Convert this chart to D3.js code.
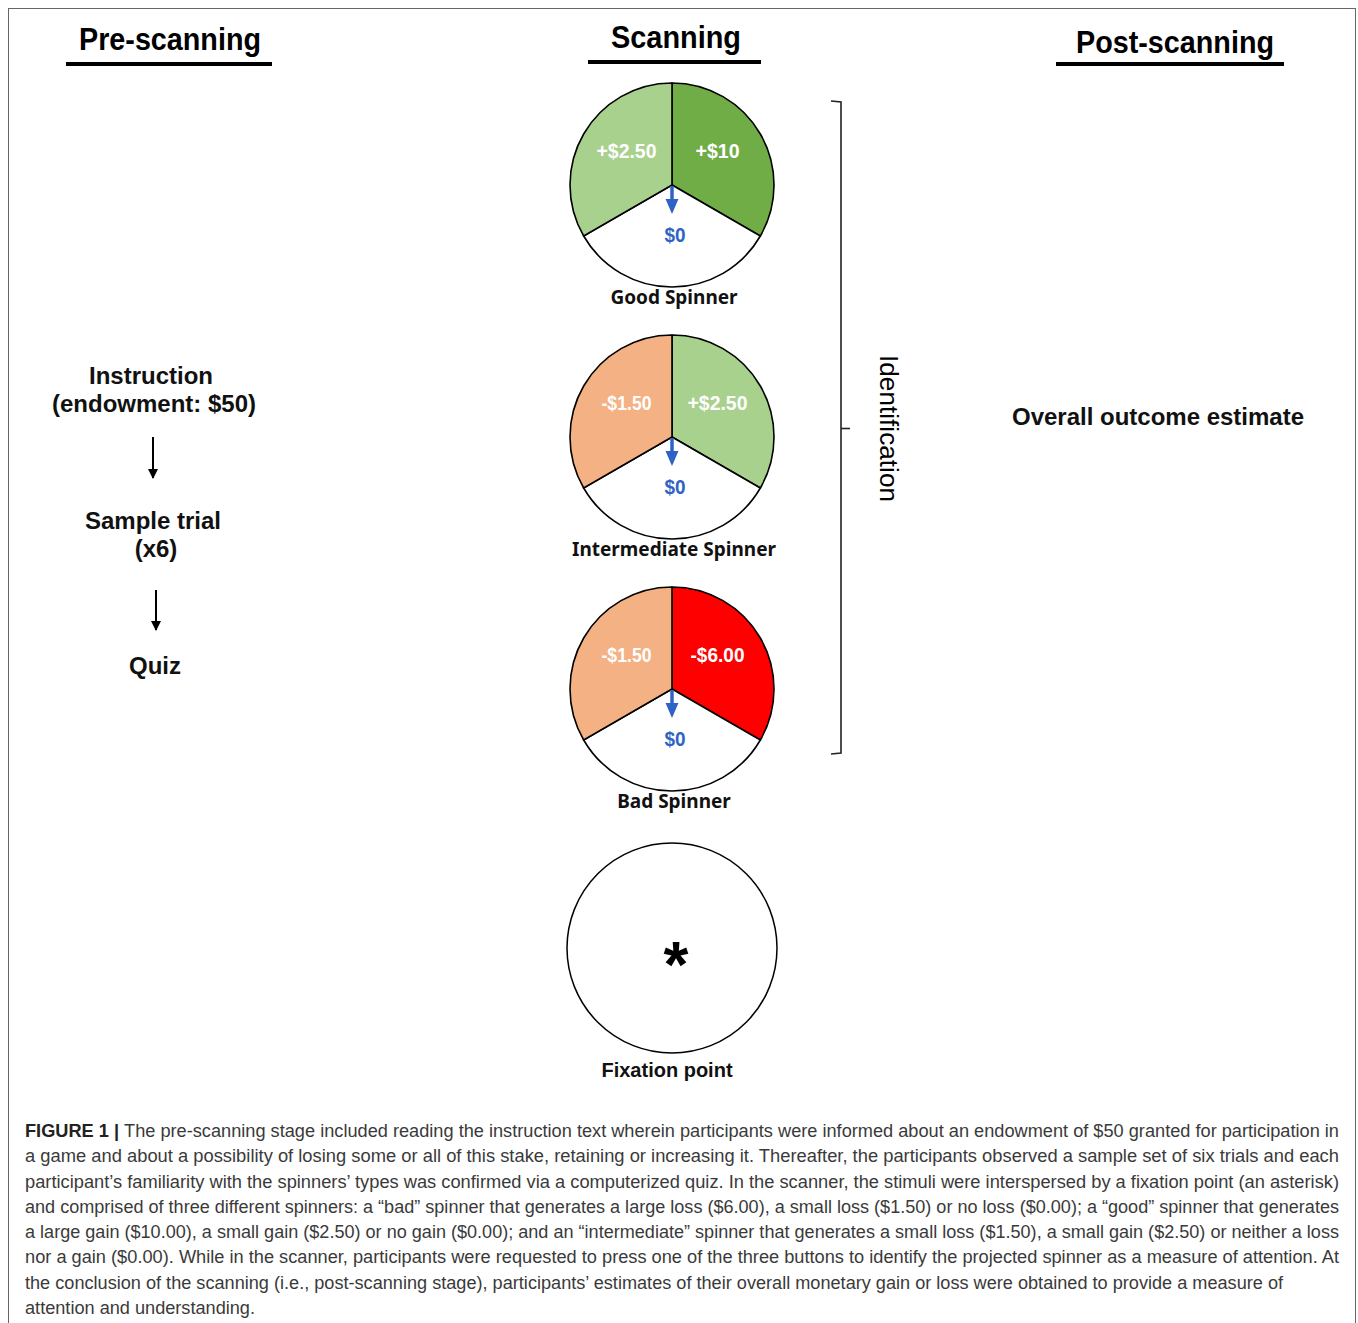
<!DOCTYPE html>
<html>
<head>
<meta charset="utf-8">
<script src="https://cdn.jsdelivr.net/npm/d3@7"></script>
<style>
  body { margin: 0; background: #fff; }
  svg { display: block; }
</style>
</head>
<body>
<script>
// ---- data ----
var stages = ["Pre-scanning", "Scanning", "Post-scanning"]
var spinnerNames = ["Good Spinner", "Intermediate Spinner", "Bad Spinner", "Fixation point"]
var rightOutcomes = ["+$10", "+$2.50", "-$6.00"]
var zeroOutcomes = ["$0", "$0", "$0"]
var leftOutcomes = ["+$2.50", "-$1.50", "-$1.50"]
var rightColors = ["#70ad47", "#a9d18e", "#ff0000"]
var leftColors = ["#a9d18e", "#f4b183", "#f4b183"]
var preSteps = [["Instruction", "(endowment: $50)"], ["Sample trial", "(x6)"], ["Quiz"]]
var bracketLabel = "Identification"
var postLabel = "Overall outcome estimate"
var captionLines = [
  "The pre-scanning stage included reading the instruction text wherein participants were informed about an endowment of $50 granted for participation in",
  "a game and about a possibility of losing some or all of this stake, retaining or increasing it. Thereafter, the participants observed a sample set of six trials and each",
  "participant\u2019s familiarity with the spinners\u2019 types was confirmed via a computerized quiz. In the scanner, the stimuli were interspersed by a fixation point (an asterisk)",
  "and comprised of three different spinners: a \u201cbad\u201d spinner that generates a large loss ($6.00), a small loss ($1.50) or no loss ($0.00); a \u201cgood\u201d spinner that generates",
  "a large gain ($10.00), a small gain ($2.50) or no gain ($0.00); and an \u201cintermediate\u201d spinner that generates a small loss ($1.50), a small gain ($2.50) or neither a loss",
  "nor a gain ($0.00). While in the scanner, participants were requested to press one of the three buttons to identify the projected spinner as a measure of attention. At",
  "the conclusion of the scanning (i.e., post-scanning stage), participants\u2019 estimates of their overall monetary gain or loss were obtained to provide a measure of",
  "attention and understanding."
]

var width = 1358, height = 1323

var svg = d3.select("body").append("svg")
    .attr("width", width)
    .attr("height", height)

// arrow marker for the flow arrows
svg.append("defs").append("marker").attr("id", "blk")
    .attr("viewBox", "0 0 10 10").attr("refX", 9).attr("refY", 5)
    .attr("markerWidth", 5).attr("markerHeight", 5).attr("orient", "auto")
    .append("path").attr("d", "M0,0L10,5L0,10z").attr("fill", "#000")

// frame
svg.append("rect")
    .attr("x", 8.5).attr("y", 8.5)
    .attr("width", 1347).attr("height", 1340)
    .attr("fill", "none").attr("stroke", "#666").attr("stroke-width", 1)

// ---- stage headers ----
var headX = d3.scaleOrdinal().domain(stages).range([170, 676, 1175])
var headY = d3.scaleOrdinal().domain(stages).range([50, 48, 53])
var headW = d3.scaleOrdinal().domain(stages).range([182, 130, 198])
var lineSpan = d3.scaleOrdinal().domain(stages).range([[66, 272, 64], [588, 761, 62], [1056, 1284, 64]])

var heads = svg.append("g").selectAll("g").data(stages).enter().append("g")
heads.append("text")
    .attr("x", d => headX(d)).attr("y", d => headY(d))
    .attr("text-anchor", "middle")
    .attr("font-family", "Liberation Sans, Arial, sans-serif")
    .attr("font-weight", "bold").attr("font-size", 31)
    .attr("textLength", d => headW(d)).attr("lengthAdjust", "spacingAndGlyphs")
    .text(d => d)
heads.append("line")
    .attr("x1", d => lineSpan(d)[0]).attr("x2", d => lineSpan(d)[1])
    .attr("y1", d => lineSpan(d)[2]).attr("y2", d => lineSpan(d)[2])
    .attr("stroke", "#000").attr("stroke-width", 4)

// ---- scanning column: spinners ----
var cx = 672
var yPos = d3.scaleOrdinal().domain(spinnerNames).range([185, 437, 689, 948])
var R = 102

var pie = d3.pie().sort(null).value(1)
var arc = d3.arc().innerRadius(0).outerRadius(R)
var labelArc = d3.arc().innerRadius(56).outerRadius(56)

var spinners = spinnerNames.slice(0, 3).map(function(name, i) {
    return {name: name, i: i,
        slices: [
            {label: rightOutcomes[i], color: rightColors[i], fill: "#fff"},
            {label: zeroOutcomes[i], color: "#fff", fill: "#2e63c4"},
            {label: leftOutcomes[i], color: leftColors[i], fill: "#fff"}
        ]}
})
var labelW = {"+$10": 44, "+$2.50": 60, "-$1.50": 50, "-$6.00": 54, "$0": 21}

var sg = svg.append("g").selectAll("g").data(spinners).enter().append("g")
    .attr("transform", d => "translate(" + cx + "," + yPos(d.name) + ")")

sg.selectAll("path.slice").data(d => pie(d.slices)).enter().append("path")
    .attr("class", "slice")
    .attr("d", arc)
    .attr("fill", d => d.data.color)
    .attr("stroke", "#000").attr("stroke-width", 1.6)

sg.selectAll("text.val").data(d => pie(d.slices)).enter().append("text")
    .attr("class", "val")
    .attr("transform", d => {
        var c = labelArc.centroid(d)
        var dx = d.index == 1 ? 3 : (d.index == 0 ? -3 : 3)
        return "translate(" + (c[0] + dx) + "," + (c[1] - 7) + ")"
    })
    .attr("text-anchor", "middle").attr("dominant-baseline", "central")
    .attr("font-family", "Liberation Sans Narrow, Liberation Sans, Arial, sans-serif")
    .attr("font-weight", "bold").attr("font-size", 21)
    .attr("textLength", d => labelW[d.data.label]).attr("lengthAdjust", "spacingAndGlyphs")
    .attr("fill", d => d.data.fill)
    .text(d => d.data.label)

// blue pointer
sg.append("line")
    .attr("x1", 0).attr("y1", 1).attr("x2", 0).attr("y2", 17)
    .attr("stroke", "#2e63c4").attr("stroke-width", 3.5)
sg.append("path")
    .attr("d", d3.line()([[-6.5, 14], [6.5, 14], [0, 29]]) + "Z")
    .attr("fill", "#2e63c4")

sg.append("text")
    .attr("x", 2).attr("y", 112)
    .attr("text-anchor", "middle").attr("dominant-baseline", "central")
    .attr("font-family", "Noto Sans, Open Sans, sans-serif")
    .attr("font-weight", "bold").attr("font-size", 19)
    .attr("fill", "#111")
    .text(d => d.name)

// fixation point
var fy = yPos("Fixation point")
svg.append("circle")
    .attr("cx", cx).attr("cy", fy).attr("r", 105)
    .attr("fill", "#fff").attr("stroke", "#000").attr("stroke-width", 1.5)
svg.append("text")
    .attr("x", cx + 4).attr("y", fy + 39)
    .attr("text-anchor", "middle")
    .attr("font-family", "Liberation Sans, Arial, sans-serif")
    .attr("font-weight", "bold").attr("font-size", 64)
    .text("*")
svg.append("text")
    .attr("x", 667).attr("y", fy + 122)
    .attr("text-anchor", "middle").attr("dominant-baseline", "central")
    .attr("font-family", "Liberation Sans, Arial, sans-serif")
    .attr("font-weight", "bold").attr("font-size", 20)
    .attr("fill", "#111")
    .text("Fixation point")

// ---- identification bracket ----
var bTop = 101, bBot = 754, bx = 841
var bMid = (bTop + bBot) / 2 + 1
svg.append("path")
    .attr("d", d3.line()([[831, bTop], [bx, bTop + 1], [bx, bBot - 1], [831, bBot]]))
    .attr("fill", "none").attr("stroke", "#222").attr("stroke-width", 1.6)
svg.append("line")
    .attr("x1", bx).attr("x2", 850).attr("y1", bMid).attr("y2", bMid)
    .attr("stroke", "#222").attr("stroke-width", 1.6)
svg.append("text")
    .attr("transform", "translate(880," + bMid + ") rotate(90)")
    .attr("text-anchor", "middle")
    .attr("font-family", "Liberation Sans, Arial, sans-serif")
    .attr("font-size", 25)
    .attr("textLength", 147).attr("lengthAdjust", "spacingAndGlyphs")
    .text(bracketLabel)

// ---- pre-scanning flow ----
var stepY = d3.scaleOrdinal().domain(d3.range(preSteps.length)).range([390, 535, 666])
var stepX = [154, 156, 155]
var pre = svg.append("g").selectAll("text").data(preSteps).enter().append("text")
    .attr("text-anchor", "middle")
    .attr("font-family", "Liberation Sans, Arial, sans-serif")
    .attr("font-weight", "bold").attr("font-size", 24)
    .attr("fill", "#111")
pre.selectAll("tspan").data((d, i) => d.map((t, j) => ({t: t, j: j, i: i, n: d.length})))
    .enter().append("tspan")
    .attr("x", d => stepX[d.i] + (d.j == 0 && d.n > 1 ? -3 : 0))
    .attr("y", d => stepY(d.i) + (d.j - (d.n - 1) / 2) * 28 + 8)
    .text(d => d.t)

svg.append("g").selectAll("line").data([[153, 437, 478], [156, 590, 630]]).enter().append("line")
    .attr("x1", d => d[0]).attr("x2", d => d[0])
    .attr("y1", d => d[1]).attr("y2", d => d[2])
    .attr("stroke", "#000").attr("stroke-width", 2)
    .attr("marker-end", "url(#blk)")

// ---- post-scanning ----
svg.append("text")
    .attr("x", 1158).attr("y", 425)
    .attr("text-anchor", "middle")
    .attr("font-family", "Liberation Sans, Arial, sans-serif")
    .attr("font-weight", "bold").attr("font-size", 24)
    .attr("fill", "#111")
    .attr("textLength", 292).attr("lengthAdjust", "spacingAndGlyphs")
    .text(postLabel)

// ---- caption ----
var capY = d3.scalePoint().domain(d3.range(captionLines.length)).range([1137, 1314])
var capLen = [1314, 1314, 1314, 1314, 1314, 1314, 1258, 230]
var cap = svg.append("g").selectAll("text").data(captionLines).enter().append("text")
    .attr("x", 25).attr("y", (d, i) => capY(i))
    .attr("font-family", "Liberation Sans, Arial, sans-serif")
    .attr("font-size", 17.5)
    .attr("fill", "#3a3a3a")
    .attr("textLength", (d, i) => capLen[i]).attr("lengthAdjust", "spacingAndGlyphs")
cap.each(function(d, i) {
    var t = d3.select(this)
    if (i == 0) {
        t.append("tspan").attr("font-weight", "bold").attr("fill", "#222").text("FIGURE 1 | ")
    }
    t.append("tspan").text(d)
})
</script>
</body>
</html>
